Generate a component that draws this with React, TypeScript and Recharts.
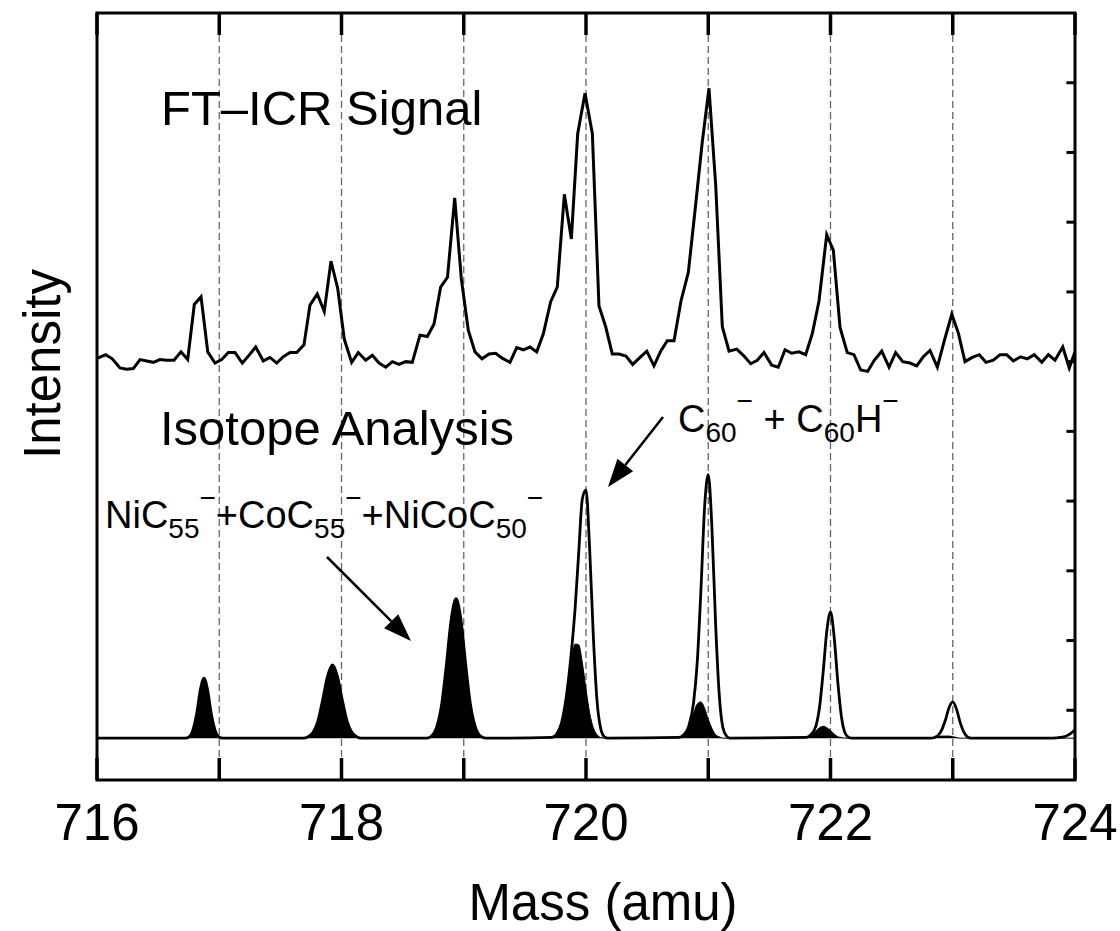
import React from "react";
import { Area, CartesianGrid, ComposedChart, Line, ReferenceLine, XAxis, YAxis } from "recharts";

const FONT = "'Liberation Sans', Arial, Helvetica, sans-serif";

// FT-ICR trace (mass in amu, intensity in arbitrary units), read point by point
const ftMass = [
  716.006, 716.071, 716.125, 716.188, 716.243, 716.297, 716.352, 716.407, 716.461, 716.515,
  716.57, 716.63, 716.687, 716.742, 716.796, 716.851, 716.906, 716.965, 717.02, 717.074,
  717.129, 717.189, 717.243, 717.298, 717.36, 717.415, 717.47, 717.524, 717.579, 717.634,
  717.693, 717.742, 717.802, 717.859, 717.914, 717.969, 718.023, 718.083, 718.137, 718.198,
  718.252, 718.307, 718.362, 718.416, 718.47, 718.525, 718.579, 718.642, 718.702, 718.757,
  718.811, 718.867, 718.926, 718.98, 719.037, 719.092, 719.149, 719.207, 719.261, 719.315,
  719.378, 719.433, 719.487, 719.542, 719.597, 719.651, 719.711, 719.765, 719.823, 719.88,
  719.932, 719.992, 720.052, 720.106, 720.161, 720.215, 720.27, 720.327, 720.382, 720.442,
  720.497, 720.556, 720.611, 720.665, 720.72, 720.777, 720.837, 720.897, 720.951, 721.006,
  721.061, 721.115, 721.17, 721.233, 721.287, 721.347, 721.401, 721.456, 721.519, 721.573,
  721.628, 721.683, 721.742, 721.797, 721.851, 721.906, 721.969, 722.023, 722.078, 722.137,
  722.192, 722.247, 722.304, 722.358, 722.419, 722.479, 722.533, 722.591, 722.65, 722.705,
  722.759, 722.814, 722.874, 722.931, 722.992, 723.046, 723.1, 723.16, 723.217, 723.272,
  723.332, 723.387, 723.441, 723.495, 723.556, 723.61, 723.667, 723.728, 723.782, 723.836,
  723.9, 723.953, 724.0,
];
const ftSignal = [
  6.05, 6.1, 6.04, 5.91, 5.89, 5.9, 6.03, 6.01, 5.99, 6.03,
  6.02, 6.02, 6.14, 6.03, 6.82, 6.93, 6.14, 5.98, 6.03, 6.13,
  6.13, 5.98, 6.09, 6.21, 6.01, 6.06, 5.98, 6.07, 6.13, 6.13,
  6.24, 6.81, 6.97, 6.72, 7.44, 7.05, 6.32, 5.99, 6.13, 6.02,
  6.09, 5.98, 5.92, 6.0, 5.96, 6.0, 5.99, 6.38, 6.36, 6.54,
  7.07, 7.21, 8.35, 7.19, 6.45, 6.14, 6.04, 6.11, 6.12, 6.05,
  5.99, 6.2, 6.17, 6.21, 6.14, 6.4, 6.86, 7.07, 8.4, 7.76,
  9.27, 9.85, 9.27, 6.8, 6.5, 6.11, 6.11, 6.08, 5.96, 6.06,
  6.15, 5.94, 6.15, 6.3, 6.3, 6.87, 7.28, 8.25, 9.15, 9.92,
  8.53, 6.5, 6.15, 6.18, 6.09, 5.97, 6.02, 6.13, 5.95, 5.92,
  6.17, 6.12, 6.14, 6.1, 6.4, 6.87, 7.82, 7.6, 6.49, 6.13,
  6.1, 5.88, 5.86, 6.02, 6.15, 5.92, 6.13, 6.0, 5.98, 5.94,
  6.07, 6.16, 5.92, 6.3, 6.68, 6.41, 6.0, 6.06, 6.1, 5.99,
  6.02, 6.1, 6.1, 6.01, 6.07, 6.04, 6.1, 5.99, 6.1, 6.02,
  6.21, 5.91, 6.14,
];

// isotope analysis: metal-cluster part (black) and total envelope (outline)
const ISO_BASELINE = 0.6;
const isoMass = [
  716.0, 716.72, 716.755, 716.785, 716.815, 716.845, 716.875, 716.905, 716.935, 716.965, 716.995, 717.03,
  717.69, 717.726, 717.766, 717.806, 717.846, 717.886, 717.926, 717.966, 718.006, 718.046, 718.086, 718.126, 718.16,
  718.7, 718.737, 718.777, 718.817, 718.857, 718.897, 718.937, 718.977, 719.017, 719.057, 719.097, 719.137, 719.18,
  719.72, 719.76, 719.8, 719.84, 719.88, 719.91, 719.94, 719.97, 720.0, 720.03, 720.06, 720.09, 720.12, 720.15, 720.18,
  720.76, 720.8, 720.84, 720.88, 720.91, 720.94, 720.97, 721.0, 721.03, 721.06, 721.09, 721.12, 721.15, 721.18,
  721.8, 721.84, 721.88, 721.91, 721.94, 721.97, 722.0, 722.03, 722.06, 722.09, 722.12, 722.15, 722.18,
  722.82, 722.85, 722.88, 722.91, 722.94, 722.97, 723.0, 723.03, 723.06, 723.09, 723.12, 723.15,
  723.82, 723.88, 723.94, 724.0,
];
const isoMetal = [
  0.6, 0.6, 0.62, 0.72, 0.95, 1.29, 1.46, 1.29, 0.95, 0.72, 0.62, 0.6,
  0.6, 0.62, 0.68, 0.84, 1.15, 1.49, 1.65, 1.49, 1.15, 0.84, 0.68, 0.62, 0.6,
  0.6, 0.63, 0.75, 1.06, 1.64, 2.3, 2.6, 2.3, 1.64, 1.06, 0.75, 0.63, 0.6,
  0.61, 0.66, 0.82, 1.2, 1.7, 1.95, 1.94, 1.68, 1.3, 0.96, 0.75, 0.65, 0.61, 0.6, 0.6,
  0.61, 0.65, 0.76, 0.96, 1.09, 1.12, 1.03, 0.87, 0.74, 0.65, 0.62, 0.6, 0.6, 0.6,
  0.61, 0.64, 0.7, 0.75, 0.77, 0.75, 0.71, 0.66, 0.62, 0.61, 0.6, 0.6, 0.6,
  0.6, 0.61, 0.62, 0.63, 0.63, 0.63, 0.62, 0.61, 0.6, 0.6, 0.6, 0.6,
  0.6, 0.6, 0.6, 0.6,
];
const isoTotal = [
  0.6, 0.6, 0.62, 0.72, 0.95, 1.29, 1.46, 1.29, 0.95, 0.72, 0.62, 0.6,
  0.6, 0.62, 0.68, 0.84, 1.15, 1.49, 1.65, 1.49, 1.15, 0.84, 0.68, 0.62, 0.6,
  0.6, 0.63, 0.75, 1.06, 1.64, 2.3, 2.6, 2.3, 1.64, 1.06, 0.75, 0.63, 0.6,
  0.61, 0.66, 0.82, 1.21, 1.83, 2.44, 3.25, 4.03, 4.16, 3.31, 2.06, 1.14, 0.74, 0.62, 0.6,
  0.61, 0.65, 0.77, 1.11, 1.69, 2.72, 3.91, 4.38, 3.62, 2.25, 1.22, 0.75, 0.63, 0.6,
  0.61, 0.65, 0.77, 1.04, 1.55, 2.14, 2.41, 2.05, 1.4, 0.9, 0.67, 0.61, 0.6,
  0.6, 0.61, 0.64, 0.72, 0.86, 1.04, 1.12, 1.02, 0.83, 0.69, 0.62, 0.6,
  0.6, 0.61, 0.64, 0.72,
];

const massTicks = [716, 717, 718, 719, 720, 721, 722, 723, 724];
const massLabels = [716, 718, 720, 722, 724];
const rightTicks = [1, 2, 3, 4, 5, 6, 7, 8, 9, 10];
const Y_MIN = 0;
const Y_MAX = 11;
const X_MIN = 716;
const X_MAX = 724;
const H_TICK = 0.07; // right-side tick length in mass units (~8 px)

// plot box (page pixels), matching the chart margins below
const LEFT = 97;
const RIGHT = 1075;
const TOP = 13;
const BOTTOM = 780;
const massToPx = (m: number) => LEFT + ((m - X_MIN) / (X_MAX - X_MIN)) * (RIGHT - LEFT);

const rows = [
  ...ftMass.map((m, i) => ({ mass: m, ft: ftSignal[i] })),
  ...isoMass.map((m, i) => ({ mass: m, metal: isoMetal[i], total: isoTotal[i] })),
].sort((a, b) => a.mass - b.mass);

function MassLabel({ x, payload }: any) {
  const v = payload.value;
  if (!massLabels.includes(v)) return <g />;
  return (
    <text x={x} y={840} textAnchor="middle" fontSize={51} fontFamily={FONT} fill="#000">
      {v}
    </text>
  );
}

function Arrow({ x1, y1, x2, y2 }: { x1: number; y1: number; x2: number; y2: number }) {
  const ang = Math.atan2(y2 - y1, x2 - x1);
  const len = 28;
  const half = 10;
  const bx = x2 - len * Math.cos(ang);
  const by = y2 - len * Math.sin(ang);
  const px = -Math.sin(ang) * half;
  const py = Math.cos(ang) * half;
  return (
    <g>
      <line x1={x1} y1={y1} x2={bx} y2={by} stroke="#000" strokeWidth={2.5} />
      <polygon points={`${x2},${y2} ${bx + px},${by + py} ${bx - px},${by - py}`} fill="#000" />
    </g>
  );
}

export default function App() {
  return (
    <div style={{ position: "absolute", left: 0, top: 0, width: 1120, height: 931, background: "#fff" }}>
      <ComposedChart
        width={1120}
        height={931}
        data={rows}
        margin={{ top: TOP - 10, right: 1120 - RIGHT - 10, bottom: 931 - BOTTOM - 10, left: LEFT - 10 }}
      >
        <CartesianGrid vertical horizontal={false} stroke="#666" strokeWidth={1.3} strokeDasharray="7 4" />
        <XAxis
          dataKey="mass"
          type="number"
          domain={[X_MIN, X_MAX]}
          ticks={massTicks}
          interval={0}
          allowDataOverflow
          height={10}
          tickLine={false}
          axisLine={false}
          tick={(p: any) => <MassLabel {...p} />}
        />
        <XAxis
          xAxisId="top"
          orientation="top"
          dataKey="mass"
          type="number"
          domain={[X_MIN, X_MAX]}
          allowDataOverflow
          height={10}
          tick={false}
          tickLine={false}
          axisLine={false}
        />
        <YAxis
          type="number"
          domain={[Y_MIN, Y_MAX]}
          allowDataOverflow
          width={10}
          tick={false}
          tickLine={false}
          axisLine={false}
        />
        <YAxis
          yAxisId="right"
          orientation="right"
          type="number"
          domain={[Y_MIN, Y_MAX]}
          width={10}
          tick={false}
          tickLine={false}
          axisLine={false}
        />

        {rightTicks.map((v) => (
          <ReferenceLine
            key={`r${v}`}
            segment={[{ x: X_MAX, y: v }, { x: X_MAX - H_TICK, y: v }]}
            stroke="#000"
            strokeWidth={3}
          />
        ))}

        <Area
          dataKey="metal"
          type="monotone"
          baseValue={ISO_BASELINE}
          fill="#000"
          fillOpacity={1}
          stroke="#000"
          strokeWidth={1}
          connectNulls
          dot={false}
          activeDot={false}
          isAnimationActive={false}
        />
        <Line
          dataKey="total"
          type="monotone"
          stroke="#000"
          strokeWidth={2.8}
          connectNulls
          dot={false}
          activeDot={false}
          isAnimationActive={false}
        />
        <Line
          dataKey="ft"
          type="linear"
          stroke="#000"
          strokeWidth={3}
          connectNulls
          dot={false}
          activeDot={false}
          isAnimationActive={false}
        />
      </ComposedChart>

      <svg
        width={1120}
        height={931}
        style={{ position: "absolute", left: 0, top: 0, pointerEvents: "none" }}
        fontFamily={FONT}
        fill="#000"
      >
        {/* frame and inward mass ticks */}
        <rect x={LEFT} y={TOP} width={RIGHT - LEFT} height={BOTTOM - TOP} fill="none" stroke="#000" strokeWidth={3} />
        {massTicks.map((m) => (
          <g key={m} stroke="#000" strokeWidth={3.5}>
            <line x1={massToPx(m)} y1={BOTTOM} x2={massToPx(m)} y2={BOTTOM - 22} />
            <line x1={massToPx(m)} y1={TOP} x2={massToPx(m)} y2={TOP + 22} />
          </g>
        ))}

        <text x={161} y={125} fontSize={49}>FT–ICR Signal</text>
        <text x={160} y={445} fontSize={49}>Isotope Analysis</text>

        <text x={105} y={528} fontSize={38}>
          NiC
          <tspan fontSize={28} dy={10}>55</tspan>
          <tspan fontSize={28} dy={-31}>−</tspan>
          <tspan dy={21}>+CoC</tspan>
          <tspan fontSize={28} dy={10}>55</tspan>
          <tspan fontSize={28} dy={-31}>−</tspan>
          <tspan dy={21}>+NiCoC</tspan>
          <tspan fontSize={28} dy={10}>50</tspan>
          <tspan fontSize={28} dy={-31}>−</tspan>
        </text>

        <text x={678} y={432} fontSize={38}>
          C
          <tspan fontSize={28} dy={10}>60</tspan>
          <tspan fontSize={28} dy={-32}>−</tspan>
          <tspan dy={22}> + C</tspan>
          <tspan fontSize={28} dy={10}>60</tspan>
          <tspan dy={-10}>H</tspan>
          <tspan fontSize={28} dy={-22}>−</tspan>
        </text>

        <Arrow x1={327} y1={557} x2={411} y2={641} />
        <Arrow x1={663} y1={417} x2={608} y2={487} />

        <text x={60} y={364} fontSize={51} textAnchor="middle" transform="rotate(-90 60 364)">
          Intensity
        </text>
        <text x={603} y={920} fontSize={51} textAnchor="middle">
          Mass (amu)
        </text>
      </svg>
    </div>
  );
}
